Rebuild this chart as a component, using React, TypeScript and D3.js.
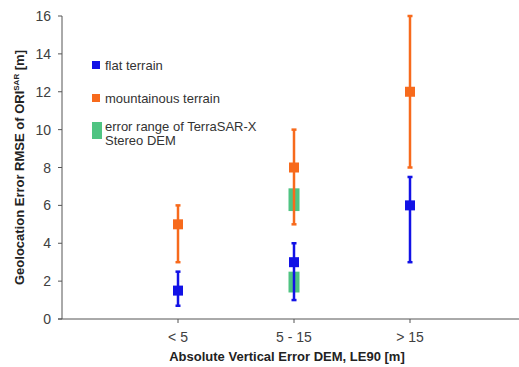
import React from "react";
import * as d3 from "d3";

const categories = ["< 5", "5 - 15", "> 15"];
const flatValue = [1.5, 3, 6];
const flatLow = [0.7, 1, 3];
const flatHigh = [2.5, 4, 7.5];
const mountValue = [5, 8, 12];
const mountLow = [3, 5, 8];
const mountHigh = [6, 10, 16];
// TerraSAR-X stereo DEM error ranges: [category, low, high]
const greenCats = ["5 - 15", "5 - 15"];
const greenLow = [1.4, 5.7];
const greenHigh = [2.5, 6.9];
const yTicks = [0, 2, 4, 6, 8, 10, 12, 14, 16];

const BLUE = "#1212e6";
const ORANGE = "#f76a1c";
const GREEN = "#4fc482";
const AXIS = "#555";
const TEXT = "#404040";
const FONT = "Liberation Sans, Arial, sans-serif";

export default function App() {
  const W = 519, H = 367;
  const left = 62, bottom = 319, top = 16;
  const x = d3.scalePoint<string>().domain(categories).range([left, 526]).padding(1);
  const y = d3.scaleLinear().domain([0, 16]).range([bottom, top]);

  const errBar = (cx: number, lo: number, hi: number, color: string, key: string) => (
    <g key={key} stroke={color} strokeWidth={2.5}>
      <line x1={cx} x2={cx} y1={y(lo)} y2={y(hi)} />
      <line x1={cx - 2.5} x2={cx + 2.5} y1={y(lo)} y2={y(lo)} />
      <line x1={cx - 2.5} x2={cx + 2.5} y1={y(hi)} y2={y(hi)} />
    </g>
  );

  return (
    <svg width={W} height={H} style={{ position: "absolute", left: 0, top: 0, background: "#fff" }} fontFamily={FONT}>
      {/* green ranges */}
      {greenCats.map((c, i) => (
        <rect key={"g" + i} x={(x(c) as number) - 5.5} width={11} y={y(greenHigh[i])} height={y(greenLow[i]) - y(greenHigh[i])} fill={GREEN} />
      ))}
      {/* error bars */}
      {categories.map((c, i) => errBar(x(c) as number, mountLow[i], mountHigh[i], ORANGE, "me" + i))}
      {categories.map((c, i) => errBar(x(c) as number, flatLow[i], flatHigh[i], BLUE, "fe" + i))}
      {categories.map((c, i) => (
        <rect key={"ms" + i} x={(x(c) as number) - 5} y={y(mountValue[i]) - 5} width={10} height={10} fill={ORANGE} />
      ))}
      {categories.map((c, i) => (
        <rect key={"fs" + i} x={(x(c) as number) - 5} y={y(flatValue[i]) - 5} width={10} height={10} fill={BLUE} />
      ))}
      {/* axes */}
      <line x1={left} x2={left} y1={top} y2={bottom} stroke={AXIS} strokeWidth={1} />
      <line x1={left - 4} x2={W} y1={bottom} y2={bottom} stroke={AXIS} strokeWidth={1} />
      {yTicks.map((t) => (
        <g key={"yt" + t}>
          <line x1={left - 4} x2={left} y1={y(t)} y2={y(t)} stroke={AXIS} />
          <text x={left - 11} y={y(t)} dy="0.36em" textAnchor="end" fontSize={14} fill={TEXT}>{t}</text>
        </g>
      ))}
      {categories.map((c) => (
        <g key={"xt" + c}>
          <line x1={x(c) as number} x2={x(c) as number} y1={bottom} y2={bottom + 4} stroke={AXIS} />
          <text x={x(c) as number} y={342} textAnchor="middle" fontSize={14} fill={TEXT}>{c}</text>
        </g>
      ))}
      <text x={287} y={361} textAnchor="middle" fontSize={13} fontWeight="bold" fill="#222">Absolute Vertical Error DEM, LE90 [m]</text>
      <text transform={`translate(24,${(top + bottom) / 2}) rotate(-90)`} textAnchor="middle" fontSize={13} fontWeight="bold" fill="#222">
        Geolocation Error RMSE of ORI<tspan fontSize={8} dy={-5}>SAR</tspan><tspan dy={5}> [m]</tspan>
      </text>
      {/* legend */}
      <rect x={92} y={61} width={8} height={8} fill={BLUE} />
      <text x={105} y={70} fontSize={13} fill="#333">flat terrain</text>
      <rect x={92} y={94} width={8} height={8} fill={ORANGE} />
      <text x={105} y={103} fontSize={13} fill="#333">mountainous terrain</text>
      <rect x={92} y={122} width={10} height={17} fill={GREEN} />
      <text x={105} y={131} fontSize={13} fill="#333">error range of TerraSAR-X</text>
      <text x={105} y={145} fontSize={13} fill="#333">Stereo DEM</text>
    </svg>
  );
}
